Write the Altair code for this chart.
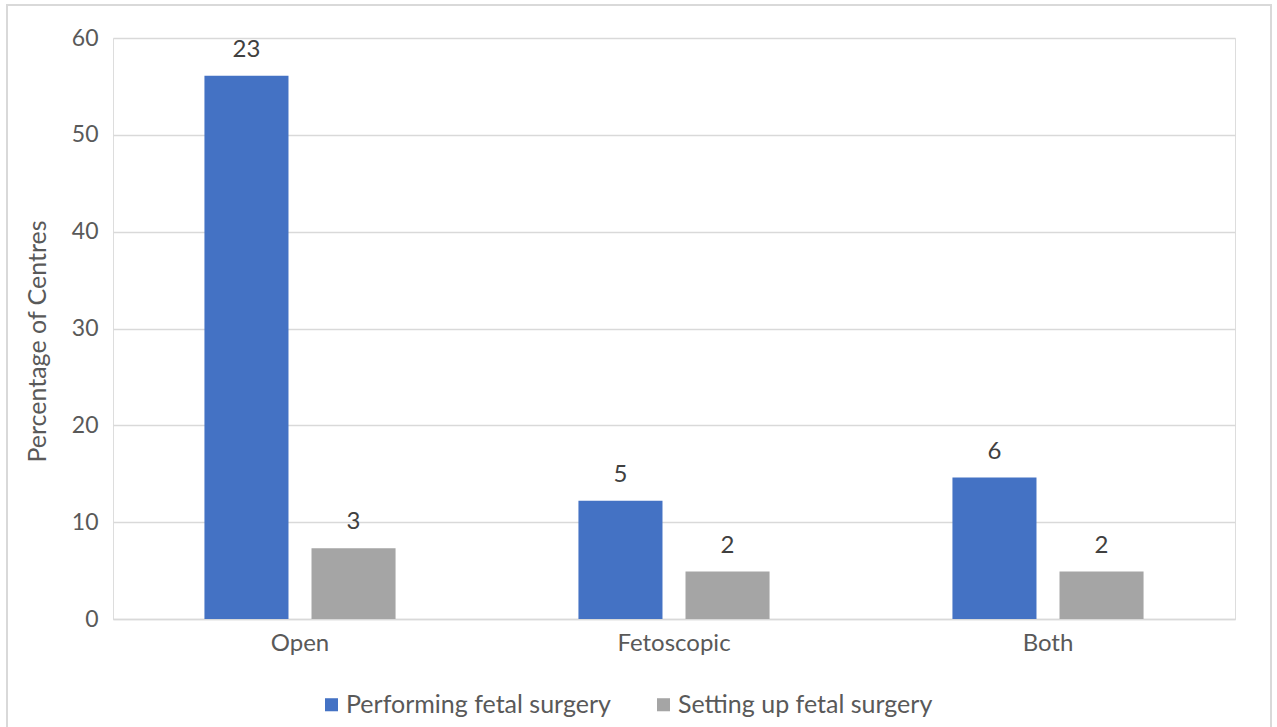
import altair as alt
import pandas as pd

categories = ["Open", "Fetoscopic", "Both"]
series_names = ["Performing fetal surgery", "Setting up fetal surgery"]
performing_pct = [56.1, 12.2, 14.6]
setting_pct = [7.3, 4.9, 4.9]
performing_n = [23, 5, 6]
setting_n = [3, 2, 2]
y_ticks = [0, 10, 20, 30, 40, 50, 60]
colors = ["#4472C4", "#A5A5A5"]

rows = []
for i, c in enumerate(categories):
    rows.append({"cat": c, "series": series_names[0], "pct": performing_pct[i], "n": performing_n[i]})
    rows.append({"cat": c, "series": series_names[1], "pct": setting_pct[i], "n": setting_n[i]})
df = pd.DataFrame(rows)

FONT = "Lato"
W, H = 1122, 581

x = alt.X("cat:N", sort=categories, title=None,
          scale=alt.Scale(paddingInner=0.489, paddingOuter=0.2445),
          axis=alt.Axis(labelAngle=0, ticks=False, domain=True, domainColor="#d9d9d9",
                        domainWidth=1.5, labelFontSize=24, labelColor="#595959",
                        labelPadding=12, labelFont=FONT, grid=False))
xo = alt.XOffset("series:N", sort=series_names,
                 scale=alt.Scale(paddingInner=0.215, paddingOuter=0))
y = alt.Y("pct:Q", title="Percentage of Centres",
          scale=alt.Scale(domain=[0, 60], nice=False),
          axis=alt.Axis(values=y_ticks, ticks=False, domain=False, grid=True,
                        gridColor="#d9d9d9", gridWidth=1.5, labelFontSize=23,
                        labelColor="#595959", labelPadding=15, labelFont=FONT,
                        titleFont=FONT, titleFontSize=25, titleColor="#595959",
                        titleFontWeight="normal", titlePadding=21, titleY=303))

color = alt.Color("series:N", sort=series_names,
                  scale=alt.Scale(domain=series_names, range=colors),
                  legend=alt.Legend(title=None, orient="none", direction="horizontal",
                                    legendX=206, legendY=654, symbolType="square",
                                    symbolSize=170, symbolStrokeWidth=0,
                                    labelFontSize=25, labelFont=FONT, labelLimit=0,
                                    labelColor="#595959", columnPadding=40,
                                    labelOffset=2))

base = alt.Chart(df)
bars = base.mark_bar().encode(x=x, xOffset=xo, y=y, color=color)
labels = base.mark_text(baseline="bottom", dy=-14, fontSize=24, font=FONT,
                        color="#404040").encode(x=x, xOffset=xo, y=y,
                                                text=alt.Text("n:Q"))

border = alt.Chart(pd.DataFrame({"d": [0]})).mark_rect(
    fill=None, stroke="#d9d9d9", strokeWidth=2).encode(
    x=alt.value(-106), x2=alt.value(1158), y=alt.value(-33), y2=alt.value(700))

chart = alt.layer(border, bars, labels).properties(
    width=W, height=H,
    padding={"left": 113, "top": 38, "right": 42, "bottom": 108},
    autosize=alt.AutoSizeParams(type="none"),
).configure_view(stroke=None).configure(font=FONT, background="white")

chart.save("out.html", embed_options={"renderer": "svg", "actions": False})
